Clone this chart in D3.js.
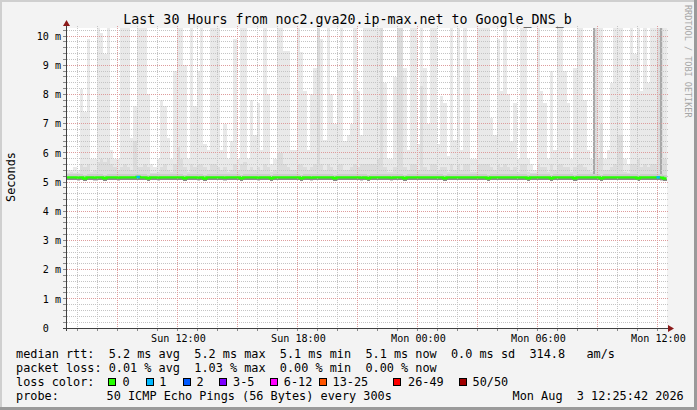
<!DOCTYPE html>
<html><head><meta charset="utf-8">
<script src="https://cdn.jsdelivr.net/npm/d3@7/dist/d3.min.js"></script>
<style>
html,body{margin:0;padding:0;background:#f3f3f3;}
svg{display:block;}
text{font-family:"DejaVu Sans Mono",monospace;white-space:pre;}
</style></head><body>
<svg id="c" width="697" height="410"></svg>
<script>
// ---------- data ----------
const title = "Last 30 Hours from noc2.gva20.ip-max.net to Google_DNS_b";
const yLabel = "Seconds";
const watermark = "RRDTOOL / TOBI OETIKER";
const yMajorTicks = [0,1,2,3,4,5,6,7,8,9,10];
const xLabelTicks = ["2026-08-02T12:00","2026-08-02T18:00","2026-08-03T00:00","2026-08-03T06:00","2026-08-03T12:00"];
const startTime = "2026-08-02T06:25:42";
const endTime = "2026-08-03T12:25:42";
const binMinutes = 10;

// highest ping of each 10-minute bin (ms)
const smokeTop = [
5.4,5.4,5.5,5.4,8.2,7.4,9.9,5.8,5.8,10.5, 10.1,9.4,10.5,6.1,5.8,5.8,10.5,10.5,10.5,6.5,
7.6,10.5,10.5,10.5,8.0,5.6,5.5,5.8,7.8,7.6, 6.5,5.8,8.8,10.5,10.5,9.0,5.8,10.5,7.6,8.8,
10.5,6.3,6.1,10.5,10.5,10.5,6.1,7.0,5.8,6.4, 9.9,5.8,10.5,10.5,5.8,7.8,6.6,7.7,6.1,10.5,
8.0,5.6,5.8,10.5,10.5,9.5,9.5,6.1,6.1,10.5, 9.45,8.1,6.1,8.0,8.9,10.5,9.9,6.45,10.5,8.0,
7.0,8.8,10.5,6.4,6.6,7.0,10.5,8.1,6.6,10.5, 10.5,10.5,10.5,10.5,10.5,8.4,5.8,5.8,8.6,10.5,
10.5,8.9,6.1,10.5,10.5,6.3,10.5,8.9,7.0,10.5, 10.5,6.3,7.95,7.7,5.9,10.5,6.45,10.5,6.1,10.5,
9.2,5.8,5.8,10.5,10.5,10.5,10.5,7.2,6.6,9.9, 8.1,10.5,8.0,6.4,7.7,5.8,10.5,10.5,5.8,5.6,
5.4,10.5,8.1,7.7,5.8,8.8,6.1,10.5,10.5,8.8, 7.7,5.8,8.9,10.5,10.5,7.8,6.1,5.8,10.5,10.5,
10.5,5.8,6.1,8.4,10.5,10.5,10.5,5.8,5.6,10.5, 9.4,10.5,8.1,10.5,8.4,10.5,10.5,10.5,10.5,10.5
];
// upper bound of the denser part of the smoke (ms)
const smokeMid = [
5.3,5.35,5.3,5.3,5.6,5.5,5.6,5.35,5.4,5.7, 5.8,5.7,5.8,5.6,5.5,5.4,5.5,5.6,5.5,5.4,
6.4,5.5,5.5,5.6,5.5,5.3,5.3,5.35,5.5,5.6, 5.4,5.35,5.6,6.2,5.8,5.5,5.35,5.6,5.5,5.6,
5.6,5.5,5.4,5.6,5.6,5.5,5.4,5.5,5.35,5.4, 5.6,5.4,5.6,5.7,5.4,5.5,5.4,5.5,5.4,5.6,
5.5,5.35,5.4,6.0,6.0,5.6,5.5,5.4,5.4,5.6, 5.6,5.5,5.4,5.5,5.6,10.5,5.6,5.4,5.6,5.5,
5.4,5.6,5.6,5.4,5.4,5.5,5.6,5.5,5.6,5.6, 5.6,5.6,5.6,5.8,10.5,5.5,5.35,5.35,5.5,10.5,
10.5,5.5,5.4,5.6,5.6,5.4,8.3,5.5,5.4,5.6, 5.6,5.4,5.5,5.5,5.35,5.6,5.4,5.6,5.4,5.6,
5.6,5.35,5.35,5.6,5.6,5.6,5.6,5.5,5.4,5.6, 5.5,5.6,5.5,5.4,5.5,5.35,5.6,5.6,5.35,5.3,
5.3,5.6,5.5,5.5,5.35,5.6,5.4,5.6,5.6,5.5, 5.5,5.35,5.5,5.6,5.6,5.5,5.4,5.35,10.5,5.8,
7.0,5.4,5.4,5.5,5.6,6.6,6.6,5.35,5.3,5.6, 5.6,5.8,5.5,5.6,5.5,5.6,5.6,10.5,10.5,5.8
];
// bins where most pings were high (dark smoke)
const darkBins = [158, 178];
const darkTops = [10.5, 10.5];
// median rtt per bin (ms)
const median = [
5.16,5.16,5.16,5.15,5.16,5.12,5.16,5.16,5.15,5.16, 5.16,5.13,5.16,5.16,5.16,5.15,5.16,5.16,5.16,5.16,
5.16,5.17,5.16,5.16,5.13,5.16,5.16,5.15,5.16,5.16, 5.16,5.16,5.16,5.16,5.16,5.13,5.16,5.16,5.16,5.15,
5.16,5.12,5.16,5.16,5.16,5.16,5.16,5.15,5.16,5.16, 5.16,5.16,5.13,5.16,5.16,5.16,5.16,5.15,5.16,5.16,
5.16,5.13,5.16,5.16,5.16,5.16,5.16,5.16,5.16,5.16, 5.13,5.16,5.16,5.15,5.16,5.16,5.16,5.16,5.16,5.16,
5.13,5.16,5.16,5.16,5.16,5.16,5.16,5.16,5.15,5.16, 5.13,5.16,5.16,5.16,5.16,5.16,5.16,5.15,5.16,5.16,
5.16,5.13,5.16,5.16,5.16,5.16,5.16,5.16,5.16,5.16, 5.16,5.16,5.16,5.13,5.16,5.16,5.16,5.16,5.16,5.16,
5.16,5.16,5.16,5.16,5.16,5.16,5.13,5.16,5.16,5.16, 5.16,5.16,5.16,5.16,5.16,5.16,5.16,5.16,5.13,5.16,
5.16,5.16,5.16,5.16,5.16,5.13,5.16,5.16,5.16,5.16, 5.16,5.16,5.13,5.16,5.16,5.16,5.16,5.16,5.16,5.16,
5.13,5.16,5.16,5.16,5.16,5.16,5.16,5.16,5.16,5.16, 5.16,5.13,5.16,5.16,5.16,5.16,5.16,5.16,5.15,5.12
];
const lossBins = [21, 177];
const lossCounts = [1, 1];

const lossLabels = ["0","1","2","3-5","6-12","13-25","26-49","50/50"];
const lossColors = ["#26ff00","#00b8ff","#0059ff","#7e00ff","#ff00ff","#ff5500","#ff0000","#a10000"];
const rttStats = ["5.2","5.2","5.1","5.1","0.0"];
const ampsValue = "314.8";
const lossStats = ["0.01","1.03","0.00","0.00"];
const probeText = "50 ICMP Echo Pings (56 Bytes) every 300s";
const stampText = "Mon Aug  3 12:25:42 2026";

// ---------- chart ----------
const W = 697, H = 410, T = 28, B = 328;
const svg = d3.select("#c");
svg.append("rect").attr("width", W).attr("height", H).attr("fill", "#f3f3f3");
svg.append("defs").append("clipPath").attr("id", "clip")
  .append("rect").attr("x", 67).attr("y", T).attr("width", 600).attr("height", B - T);
svg.append("rect").attr("x", 67).attr("y", T).attr("width", 600).attr("height", B - T).attr("fill", "#fff");

const t0 = new Date(startTime), t1 = new Date(endTime);
const x = d3.scaleTime().domain([t0, t1]).range([66.5, 666.5]);
const y = d3.scaleLinear().domain([0, 300 / 29.2]).range([B, T]);
const binT = i => new Date(t0.getTime() + i * binMinutes * 60000);
const bx = i => x(binT(i));
const bw = i => bx(i + 1) - bx(i);

const gS = svg.append("g").attr("clip-path", "url(#clip)").attr("shape-rendering", "crispEdges");
gS.selectAll("rect.top").data(smokeTop).join("rect").attr("class", "top")
  .attr("x", (d, i) => bx(i)).attr("width", (d, i) => bw(i))
  .attr("y", d => y(d)).attr("height", (d, i) => y(median[i] - 0.1) - y(d))
  .attr("fill", "#e9e9e9");
gS.selectAll("rect.mid").data(smokeMid).join("rect").attr("class", "mid")
  .attr("x", (d, i) => bx(i)).attr("width", (d, i) => bw(i))
  .attr("y", d => y(d)).attr("height", (d, i) => y(median[i] - 0.1) - y(d))
  .attr("fill", "#dcdcdc");
gS.selectAll("rect.dark").data(darkBins).join("rect").attr("class", "dark")
  .attr("x", d => bx(d)).attr("width", d => bw(d) * 0.6)
  .attr("y", (d, k) => y(darkTops[k])).attr("height", (d, k) => y(median[d]) - y(darkTops[k]))
  .attr("fill", "#a8a8a8");

const pts = median.map((v, i) => ({ t: binT(i), v }));
pts.push({ t: t1, v: median[median.length - 1] });
const band = (lo, hi) => d3.area().curve(d3.curveStepAfter).x(d => x(d.t)).y0(d => y(d.v + lo)).y1(d => y(d.v + hi));
gS.append("path").datum(pts).attr("d", band(-0.1, 0.11)).attr("fill", "#cccccc");
gS.append("path").datum(pts).attr("d", band(-0.085, -0.03)).attr("fill", "#8a8a8a");

// grid
const g = svg.append("g").attr("shape-rendering", "crispEdges");
const minorY = d3.range(1, 52).map(k => k * 0.2).filter(v => Math.abs(v - Math.round(v)) > 0.01 && y(v) >= T);
const px = v => Math.round(v - 0.5) + 0.5;
g.selectAll("line.my").data(minorY).join("line")
  .attr("x1", 63).attr("x2", 669).attr("y1", d => px(y(d))).attr("y2", d => px(y(d)))
  .attr("stroke", "#c4c4c4").attr("stroke-dasharray", "1,1");
const hours = d3.timeHour.range(d3.timeHour.ceil(t0), t1);
const minorX = hours.filter(h => h.getHours() % 3 !== 0);
const majorX = hours.filter(h => h.getHours() % 3 === 0);
g.selectAll("line.mx").data(minorX).join("line")
  .attr("y1", T - 2).attr("y2", B + 2).attr("x1", d => px(x(d))).attr("x2", d => px(x(d)))
  .attr("stroke", "#c4c4c4").attr("stroke-dasharray", "1,1");
g.selectAll("line.My").data(yMajorTicks.filter(d => d > 0)).join("line")
  .attr("x1", 63).attr("x2", 669).attr("y1", d => px(y(d))).attr("y2", d => px(y(d)))
  .attr("stroke", "#dd9c9c").attr("stroke-dasharray", "1,1");
g.selectAll("line.Mx").data(majorX).join("line")
  .attr("y1", T - 2).attr("y2", B + 2).attr("x1", d => px(x(d))).attr("x2", d => px(x(d)))
  .attr("stroke", "#dd9c9c").attr("stroke-dasharray", "1,1");

// median line
const line = d3.line().curve(d3.curveStepAfter).x(d => x(d.t)).y(d => y(d.v));
svg.append("path").datum(pts).attr("d", line).attr("fill", "none")
  .attr("stroke", lossColors[0]).attr("stroke-width", 2.4);
lossBins.forEach((b, k) => {
  svg.append("path").datum([pts[b], { t: binT(b + 1), v: median[b] }]).attr("d", line)
    .attr("fill", "none").attr("stroke", lossColors[lossCounts[k]]).attr("stroke-width", 2.4);
});

// axes
const ax = svg.append("g").attr("shape-rendering", "crispEdges");
ax.selectAll("line.ty").data(d3.range(0, 52).map(k => k * 0.2).filter(v => y(v) >= T)).join("line")
  .attr("x1", 63).attr("x2", 66).attr("y1", d => px(y(d))).attr("y2", d => px(y(d))).attr("stroke", "#888");
ax.selectAll("line.tx").data(hours).join("line")
  .attr("y1", B).attr("y2", B + 3).attr("x1", d => px(x(d))).attr("x2", d => px(x(d))).attr("stroke", "#888");
ax.append("line").attr("x1", 63).attr("x2", 669).attr("y1", px(y(0))).attr("y2", px(y(0))).attr("stroke", "#404040");
ax.append("line").attr("x1", 66.5).attr("x2", 66.5).attr("y1", B + 3).attr("y2", 25).attr("stroke", "#404040");
svg.append("path").attr("d", "M668,325L674,328.5L668,332Z").attr("fill", "#8b1a1a");
svg.append("path").attr("d", "M63,26L66.5,20L70,26Z").attr("fill", "#8b1a1a");

// tick labels
const axisFont = 10.1, adv = axisFont * 0.602;
svg.selectAll("text.yl").data(yMajorTicks).join("text")
  .attr("x", d => d === 0 ? 61 - 2 * adv : 61).attr("y", d => y(d) + 3.8)
  .attr("text-anchor", "end").attr("font-size", axisFont).attr("fill", "#000")
  .text(d => d === 0 ? "0" : d + " m");
const fmt = d3.timeFormat("%a %H:%M");
svg.selectAll("text.xl").data(xLabelTicks.map(s => new Date(s))).join("text")
  .attr("x", d => x(d) + 0.5).attr("y", 342).attr("text-anchor", "middle")
  .attr("font-size", axisFont).attr("fill", "#000").text(d => fmt(d));

svg.append("text").attr("transform", "translate(15,177) rotate(-90)")
  .attr("text-anchor", "middle").attr("font-size", 11.85).text(yLabel);
svg.append("text").attr("x", 347.5).attr("y", 24).attr("text-anchor", "middle")
  .attr("font-size", 13.3).text(title);
svg.append("text").attr("transform", "translate(685,5) rotate(90)")
  .attr("font-size", 8.5).attr("fill", "#a6a6a6").text(watermark);

// legend
const lf = 11.85;
const row1 = "median rtt:  " + rttStats[0] + " ms avg  " + rttStats[1] + " ms max  " + rttStats[2] +
  " ms min  " + rttStats[3] + " ms now  " + rttStats[4] + " ms sd  " + ampsValue + "   am/s";
const row2 = "packet loss: " + lossStats[0] + " % avg  " + lossStats[1] + " % max  " + lossStats[2] +
  " % min  " + lossStats[3] + " % now";
svg.append("text").attr("x", 16).attr("y", 358).attr("font-size", lf).text(row1);
svg.append("text").attr("x", 16).attr("y", 372).attr("font-size", lf).text(row2);
svg.append("text").attr("x", 16).attr("y", 386).attr("font-size", lf).text("loss color:");
const boxX = [108.3, 145.5, 182.5, 219.2, 269.7, 318.7, 393.3, 458.7];
const labX = [123.3, 160, 197.2, 233.8, 284.5, 333.3, 408.7, 473.3];
lossLabels.forEach((l, i) => {
  svg.append("rect").attr("x", Math.round(boxX[i]) + 0.5).attr("y", 378.5).attr("width", 7).attr("height", 7)
    .attr("fill", lossColors[i]).attr("stroke", "#000").attr("shape-rendering", "crispEdges");
  svg.append("text").attr("x", labX[i] - 0.7).attr("y", 386).attr("font-size", lf).text(l);
});
svg.append("text").attr("x", 16).attr("y", 400).attr("font-size", lf).text("probe:");
svg.append("text").attr("x", 106.6).attr("y", 400).attr("font-size", lf).text(probeText);
svg.append("text").attr("x", 512.6).attr("y", 400).attr("font-size", lf).text(stampText);

// frame
const fr = svg.append("g").attr("shape-rendering", "crispEdges");
fr.append("rect").attr("x", 0).attr("y", 0).attr("width", W).attr("height", 2).attr("fill", "#cfcfcf");
fr.append("rect").attr("x", 0).attr("y", 0).attr("width", 2).attr("height", H).attr("fill", "#cfcfcf");
fr.append("rect").attr("x", W - 3).attr("y", 0).attr("width", 3).attr("height", H).attr("fill", "#9a9a9a");
fr.append("rect").attr("x", 0).attr("y", H - 3).attr("width", W).attr("height", 3).attr("fill", "#9a9a9a");
</script>
</body></html>
